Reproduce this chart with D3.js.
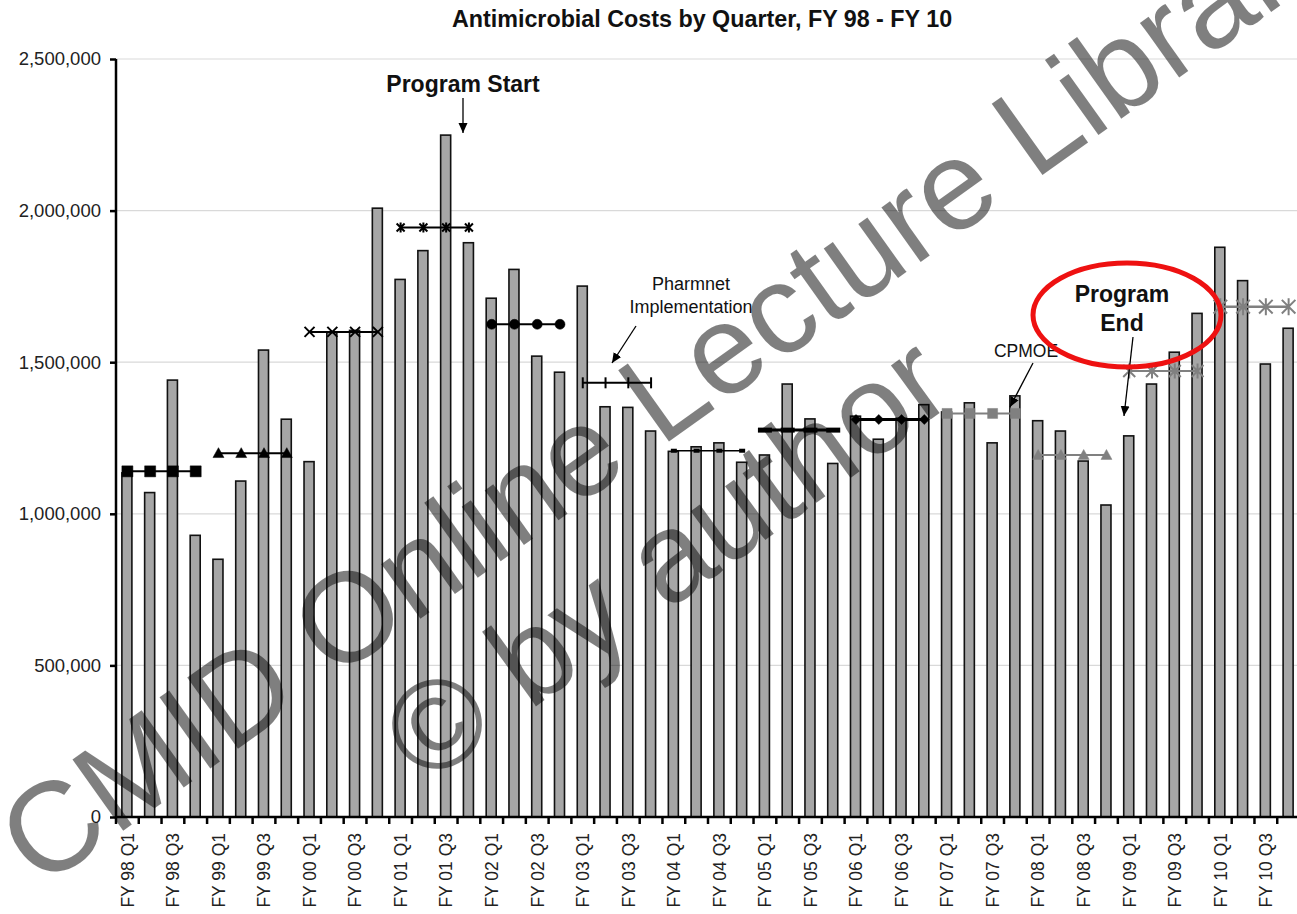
<!DOCTYPE html>
<html><head><meta charset="utf-8">
<script src="https://cdn.jsdelivr.net/npm/d3@7"></script>
<style>
body{margin:0;background:#fff;}
svg{display:block;font-family:"Liberation Sans",Arial,Helvetica,sans-serif;}
</style>
</head><body>
<svg id="chart" width="1297" height="914"></svg>
<script>
// ---------- data ----------
const fiscalYears = ["98","99","00","01","02","03","04","05","06","07","08","09","10"];
const quarters = ["Q1","Q2","Q3","Q4"];
const categories = fiscalYears.flatMap(fy => quarters.map(q => `FY ${fy} ${q}`));
const quarterlyCosts = [
  1135000, 1070000, 1441000,  929000,   // FY 98
   850000, 1108000, 1540000, 1312000,   // FY 99
  1172000, 1598000, 1605000, 2008000,   // FY 00
  1773000, 1868000, 2249000, 1894000,   // FY 01
  1711000, 1806000, 1520000, 1467000,   // FY 02
  1751000, 1353000, 1351000, 1273000,   // FY 03
  1206000, 1221000, 1234000, 1170000,   // FY 04
  1194000, 1428000, 1313000, 1166000,   // FY 05
  1322000, 1246000, 1315000, 1360000,   // FY 06
  1336000, 1366000, 1234000, 1389000,   // FY 07
  1307000, 1273000, 1174000, 1029000,   // FY 08
  1257000, 1428000, 1533000, 1661000,   // FY 09
  1879000, 1769000, 1494000, 1612000    // FY 10
];
const annualAverages = [1140000, 1200000, 1600000, 1944000, 1625000, 1432000,
                        1208000, 1276000, 1311000, 1331000, 1194000, 1471000, 1683000];
const yTicks = [0, 500000, 1000000, 1500000, 2000000, 2500000];
const xLabelCategories = categories.filter((c, i) => i % 2 === 0);

const titleText = "Antimicrobial Costs by Quarter, FY 98 - FY 10";
const watermarkMain = "CMID Online Lecture Library";
const watermarkSub = "\u00A9 by author";

// ---------- styles ----------
const avgStyles = [
  {shape:"square",   color:"#000",    size:11, line:2},
  {shape:"triangle", color:"#000",    size:11, line:2},
  {shape:"x",        color:"#000",    size:10, line:2},
  {shape:"asterisk", color:"#000",    size:10, line:2},
  {shape:"circle",   color:"#000",    size:10, line:2},
  {shape:"vtick",    color:"#000",    size:11, line:2},
  {shape:"hdash",    color:"#000",    size:6,  line:1.5},
  {shape:"hdash",    color:"#000",    size:14, line:3},
  {shape:"diamond",  color:"#000",    size:10, line:3},
  {shape:"square",   color:"#808080", size:10, line:2},
  {shape:"triangle", color:"#808080", size:11, line:2},
  {shape:"asterisk", color:"#808080", size:15, line:2},
  {shape:"asterisk", color:"#808080", size:17, line:2.5}
];

const W = 1297, H = 914;
const plot = {left:116, right:1300, top:59, bottom:817};

const svg = d3.select("#chart");

const x = d3.scaleBand().domain(categories).range([plot.left, plot.right]).padding(0);
const y = d3.scaleLinear().domain([0, 2500000]).range([plot.bottom, plot.top]);

// defs: arrowhead
const defs = svg.append("defs");
defs.append("marker").attr("id","arrow").attr("viewBox","0 0 10 10")
  .attr("refX",10).attr("refY",5).attr("markerWidth",10).attr("markerHeight",10)
  .attr("markerUnits","userSpaceOnUse").attr("orient","auto")
  .append("path").attr("d","M0,0.5 L10,5 L0,9.5 Z").attr("fill","#000");

// gridlines
svg.append("g").selectAll("line").data(yTicks.filter(d => d > 0)).join("line")
  .attr("x1", plot.left).attr("x2", W)
  .attr("y1", d => y(d)).attr("y2", d => y(d))
  .attr("stroke", "#d9d9d9").attr("stroke-width", 1.2);

// bars
const barW = x.bandwidth() * 0.44;
svg.append("g").selectAll("rect").data(quarterlyCosts).join("rect")
  .attr("x", (d, i) => x(categories[i]) + x.bandwidth()/2 - barW/2 - 0.5)
  .attr("y", d => y(d))
  .attr("width", barW)
  .attr("height", d => y(0) - y(d))
  .attr("fill", "#a6a6a6")
  .attr("stroke", "#111")
  .attr("stroke-width", 1.6);

// annual averages
function markerPath(shape, s) {
  const h = s / 2;
  switch (shape) {
    case "square":   return `M${-h},${-h}h${s}v${s}h${-s}Z`;
    case "triangle": return `M0,${-h}L${h},${h*0.8}L${-h},${h*0.8}Z`;
    case "diamond":  return `M0,${-h}L${h},0L0,${h}L${-h},0Z`;
    case "circle":   return `M${-h},0a${h},${h} 0 1,0 ${s},0a${h},${h} 0 1,0 ${-s},0Z`;
    case "x":        return `M${-h},${-h}L${h},${h}M${h},${-h}L${-h},${h}`;
    case "asterisk": return `M${-h*0.8},${-h*0.8}L${h*0.8},${h*0.8}M${h*0.8},${-h*0.8}L${-h*0.8},${h*0.8}M0,${-h}L0,${h}`;
    case "vtick":    return `M0,${-h}L0,${h}`;
    case "hdash":    return `M${-h},0L${h},0`;
  }
}
const filled = new Set(["square","triangle","diamond","circle"]);

const avgG = svg.append("g");
annualAverages.forEach((avg, i) => {
  const st = avgStyles[i];
  const cats = categories.slice(i*4, i*4 + 4);
  const pts = cats.map(c => [x(c) + x.bandwidth()/2, y(avg)]);
  const g = avgG.append("g");
  g.append("path").attr("d", d3.line()(pts))
    .attr("fill","none").attr("stroke", st.color).attr("stroke-width", st.line);
  g.selectAll("path.m").data(pts).join("path").attr("class","m")
    .attr("transform", p => `translate(${p[0]},${p[1]})`)
    .attr("d", markerPath(st.shape, st.size))
    .attr("fill", filled.has(st.shape) ? st.color : "none")
    .attr("stroke", st.color)
    .attr("stroke-width", st.shape === "hdash" ? (st.size > 10 ? 5 : 4) : (filled.has(st.shape) ? 0.5 : 2));
});

// y axis
const yAxis = svg.append("g").attr("transform", `translate(${plot.left},0)`)
  .call(d3.axisLeft(y).tickValues(yTicks).tickFormat(d3.format(",")).tickSize(6).tickPadding(9));
yAxis.select(".domain").attr("stroke","#000").attr("stroke-width",2.5).attr("d", `M0,${plot.top}V${plot.bottom}`);
yAxis.selectAll(".tick line").attr("stroke","#000").attr("stroke-width",2.5);
yAxis.selectAll(".tick text").attr("font-size", 18.5).attr("fill","#222")
  .attr("font-family","'Liberation Sans',Arial,sans-serif");

// x axis
const xAxisG = svg.append("g").attr("transform", `translate(0,${plot.bottom})`);
xAxisG.append("line").attr("x1", plot.left).attr("x2", W).attr("stroke","#000").attr("stroke-width",2.5);
const bounds = d3.range(categories.length + 1).map(i => plot.left + i * x.step());
xAxisG.selectAll("line.t").data(bounds).join("line").attr("class","t")
  .attr("x1", d => d).attr("x2", d => d).attr("y1", 0).attr("y2", 7)
  .attr("stroke","#000").attr("stroke-width",2.5);
xAxisG.selectAll("text").data(xLabelCategories).join("text")
  .attr("transform", d => `translate(${x(d) + x.bandwidth()/2},16) rotate(-90)`)
  .attr("text-anchor","end").attr("dy","0.36em")
  .attr("font-size", 17.5).attr("fill","#222")
  .text(d => d);

// title
svg.append("text").attr("x", 702).attr("y", 27).attr("text-anchor","middle")
  .attr("font-size", 23.3).attr("font-weight","bold").attr("fill","#111").text(titleText);

// annotations
const ann = svg.append("g").attr("fill","#111");
ann.append("text").attr("x", 463).attr("y", 92).attr("text-anchor","middle")
  .attr("font-size", 23).attr("font-weight","bold").text("Program Start");
ann.append("line").attr("x1",463).attr("y1",98).attr("x2",463).attr("y2",133)
  .attr("stroke","#000").attr("stroke-width",1.3).attr("marker-end","url(#arrow)");

ann.append("text").attr("x", 691).attr("y", 290).attr("text-anchor","middle")
  .attr("font-size", 18).text("Pharmnet");
ann.append("text").attr("x", 691).attr("y", 313).attr("text-anchor","middle")
  .attr("font-size", 18).text("Implementation");
ann.append("line").attr("x1",636).attr("y1",326).attr("x2",612).attr("y2",363)
  .attr("stroke","#000").attr("stroke-width",1.3).attr("marker-end","url(#arrow)");

ann.append("text").attr("x", 1026).attr("y", 357).attr("text-anchor","middle")
  .attr("font-size", 17.5).text("CPMOE");
ann.append("line").attr("x1",1033).attr("y1",363).attr("x2",1010).attr("y2",407)
  .attr("stroke","#000").attr("stroke-width",1.3).attr("marker-end","url(#arrow)");

ann.append("text").attr("x", 1122).attr("y", 302).attr("text-anchor","middle")
  .attr("font-size", 23).attr("font-weight","bold").text("Program");
ann.append("text").attr("x", 1122).attr("y", 331).attr("text-anchor","middle")
  .attr("font-size", 23).attr("font-weight","bold").text("End");
ann.append("line").attr("x1",1133).attr("y1",337).attr("x2",1124).attr("y2",416)
  .attr("stroke","#000").attr("stroke-width",1.3).attr("marker-end","url(#arrow)");

svg.append("ellipse").attr("cx",1127).attr("cy",315).attr("rx",94).attr("ry",52)
  .attr("fill","none").attr("stroke","#ee1111").attr("stroke-width",5);

// watermark
const wm = svg.append("g").attr("fill","#000").attr("fill-opacity",0.5)
  .attr("font-family","'Liberation Sans',Arial,sans-serif").attr("font-size",127);
wm.append("text").attr("transform","translate(40,890) rotate(-35.5)").text(watermarkMain);
wm.append("text").attr("transform","translate(425,787) rotate(-36)").text(watermarkSub);
</script>
</body></html>
